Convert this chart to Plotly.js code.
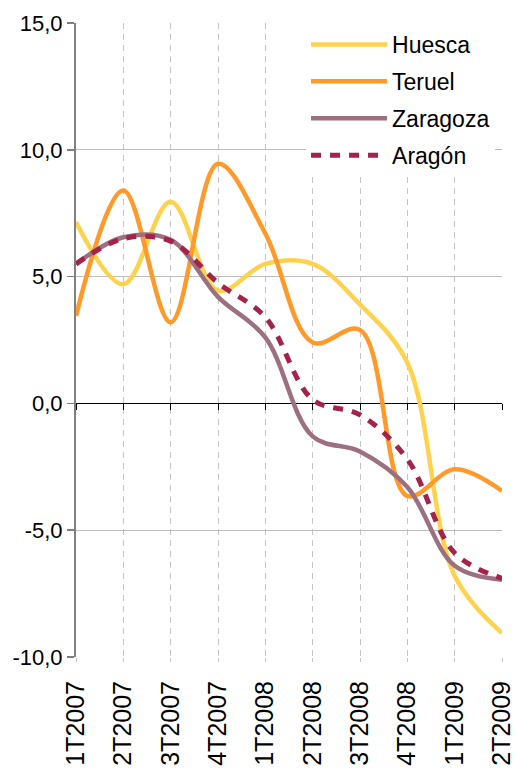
<!DOCTYPE html>
<html>
<head>
<meta charset="utf-8">
<script src="https://cdn.plot.ly/plotly-3.0.1.min.js"></script>
<style>html,body{margin:0;padding:0;background:#fff;}#chart{width:515px;height:772px;}</style>
</head>
<body>
<div id="chart"></div>
<script>
var categories = ["1T2007","2T2007","3T2007","4T2007","1T2008","2T2008","3T2008","4T2008","1T2009","2T2009"];
var huesca   = [7.15, 4.7, 7.95, 4.45, 5.5, 5.5, 3.9, 1.6, -6.8, -9.05];
var teruel   = [3.45, 8.4, 3.2, 9.45, 6.7, 2.4, 2.9, -3.65, -2.6, -3.45];
var zaragoza = [5.5, 6.55, 6.45, 4.2, 2.6, -1.3, -1.9, -3.3, -6.4, -6.95];
var aragon   = [5.5, 6.5, 6.4, 4.75, 3.4, 0.15, -0.45, -2.2, -5.9, -6.9];
var yTickVals  = [-10, -5, 0, 5, 10, 15];
var yTickTexts = ["-10,0", "-5,0", "0,0", "5,0", "10,0", "15,0"];

var names  = ["Huesca","Teruel","Zaragoza","Aragón"];
var colors = ["#FFD24D","#FF9A2A","#9C7080","#A3234A"];
var series = [huesca, teruel, zaragoza, aragon];

var traces = series.map(function(s, i){
  return {
    type: "scatter", mode: "lines", name: names[i],
    x: categories, y: s,
    legendgroup: "g" + i,
    line: {color: colors[i], width: i === 3 ? 5 : 4.5, shape: "spline", smoothing: 1,
           dash: i === 3 ? "10px,9px" : "solid"},
    hoverinfo: "skip"
  };
});
// helper trace for the tick marks on the zero line
traces.push({type:"scatter", mode:"lines", x: categories, y: categories.map(function(){return null;}),
  xaxis:"x2", showlegend:false, hoverinfo:"skip"});

var font = "Liberation Sans, Arial, sans-serif";
var layout = {
  width: 515, height: 772,
  margin: {l: 76, r: 13, t: 23, b: 115},
  paper_bgcolor: "#fff", plot_bgcolor: "#fff",
  font: {family: font, size: 21, color: "#000"},
  showlegend: true,
  legend: {x: 0.54, y: 1, xanchor: "left", yanchor: "top", bgcolor: "#fff",
           font: {family: font, size: 23, color: "#000"}, itemwidth: 76,
           tracegroupgap: 4, traceorder: "grouped"},
  xaxis: {type: "category", categoryarray: categories, range: [0, 9],
          showgrid: true, gridcolor: "#c4c4c4", griddash: "6px,5px", gridwidth: 1,
          showline: false, zeroline: false, ticks: "outside", ticklen: 4,
          tickcolor: "#c4c4c4", tickwidth: 1, ticklabelstandoff: 9, tickangle: -90,
          tickfont: {family: font, size: 25, color: "#000"}, automargin: false},
  xaxis2: {type: "category", categoryarray: categories, range: [0, 9], overlaying: "x",
           anchor: "free", position: 0.4, side: "bottom", showgrid: false, showline: false,
           zeroline: false, showticklabels: false, ticks: "outside", ticklen: 6,
           tickcolor: "#000", tickwidth: 1},
  yaxis: {range: [-10, 15], tickvals: yTickVals, ticktext: yTickTexts,
          showgrid: true, gridcolor: "#bdbdbd", gridwidth: 1,
          zeroline: true, zerolinecolor: "#000", zerolinewidth: 1.3,
          showline: true, linecolor: "#808080", linewidth: 2,
          ticks: "outside", ticklen: 7, tickcolor: "#808080", tickwidth: 1.5,
          tickfont: {family: font, size: 22, color: "#000"}, automargin: false}
};

Plotly.newPlot("chart", traces, layout, {staticPlot: true, displayModeBar: false});
</script>
</body>
</html>
